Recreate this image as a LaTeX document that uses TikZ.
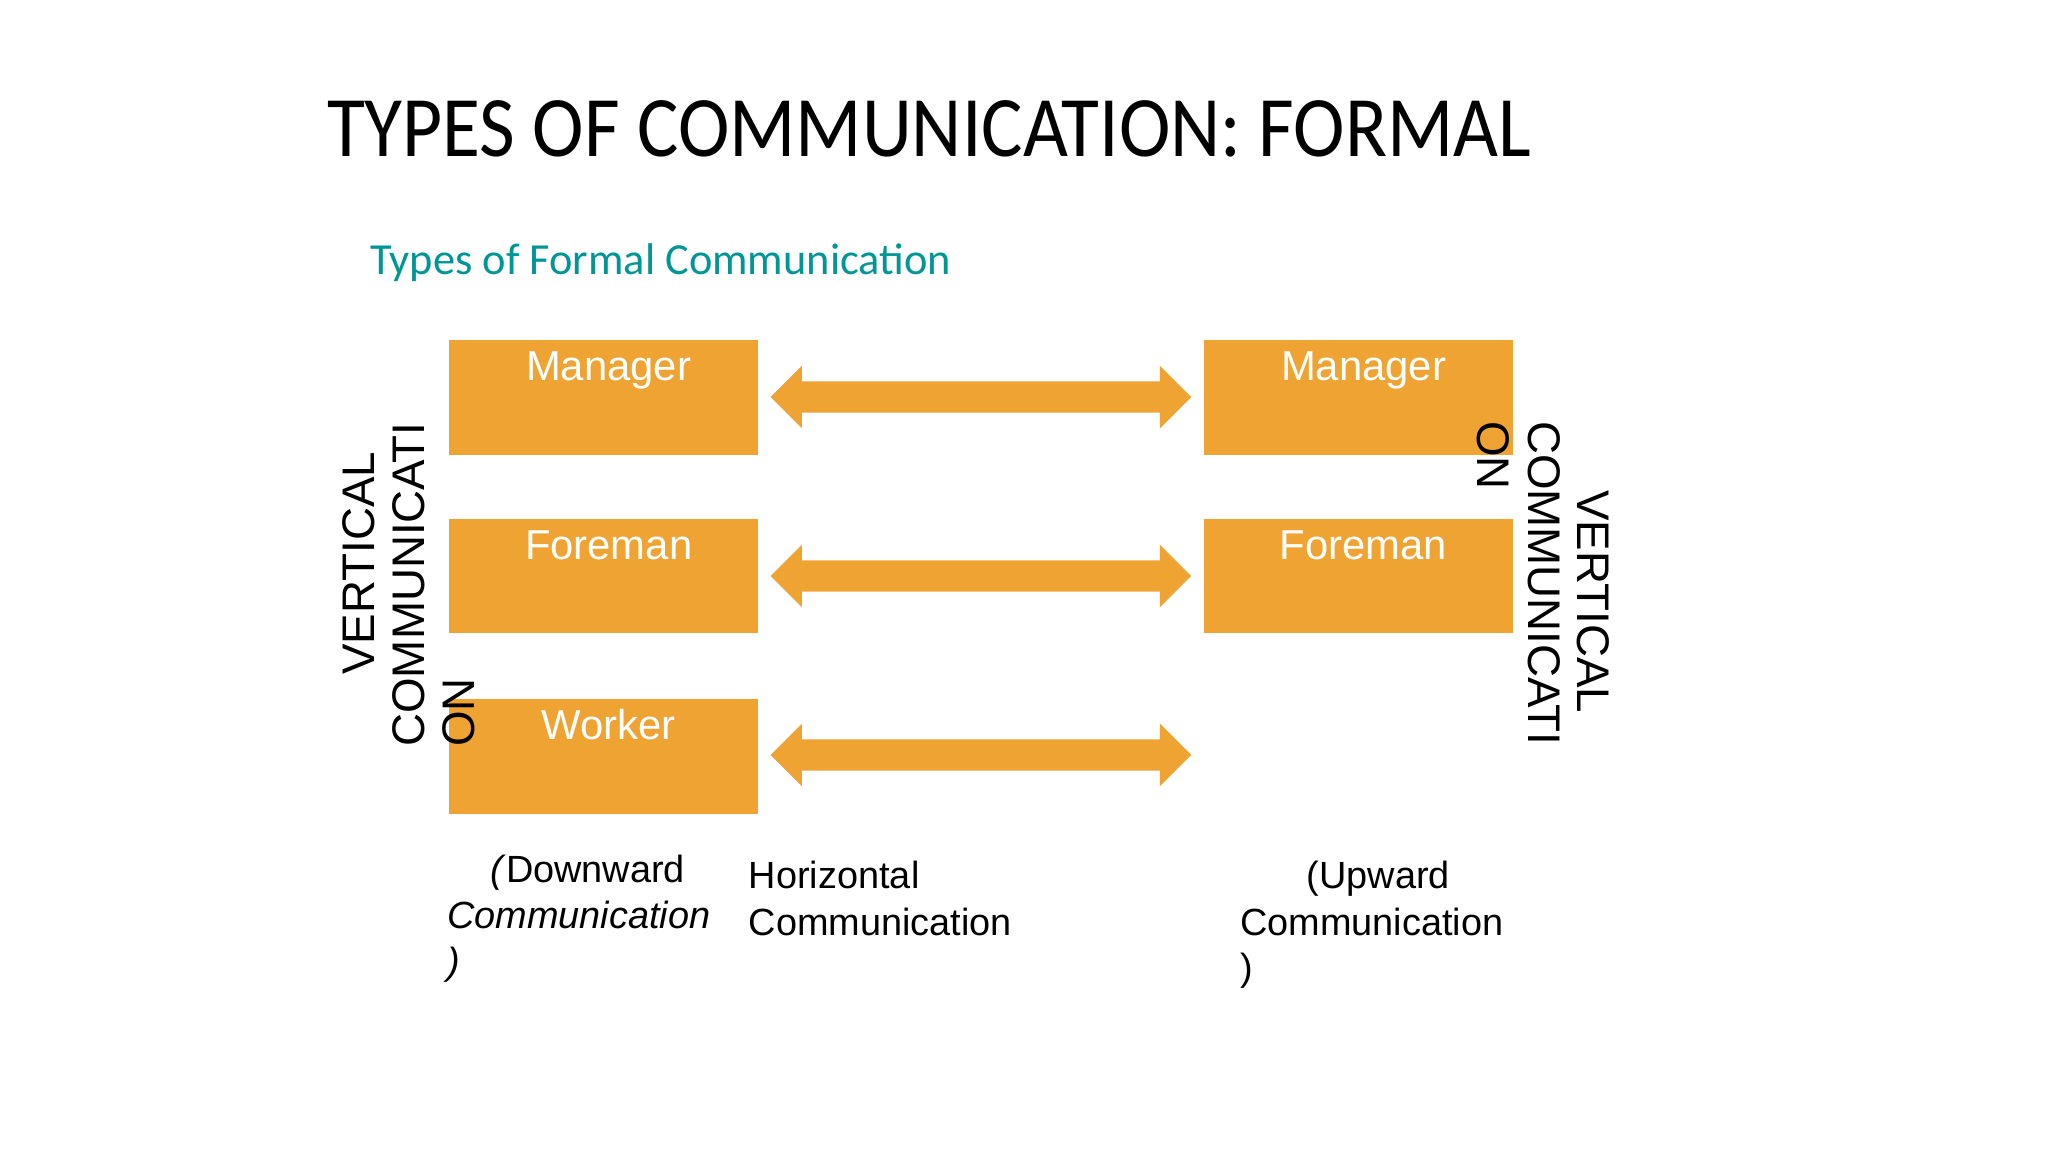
\documentclass[tikz,border=0pt]{standalone}
\usepackage{fontspec}
\setmainfont{Liberation Sans}
\newfontfamily\carl{Carlito}
\begin{document}
\begin{tikzpicture}[x=0.5pt,y=-0.5pt,
  box/.style={fill=orb,draw=none},
  blab/.style={text=white,font=\fontsize{16}{16}\selectfont,anchor=base},
  vt/.style={font=\fontsize{17.5}{17.5}\selectfont,anchor=base west,inner sep=0},
  bt/.style={font=\fontsize{14.5}{14.5}\selectfont,anchor=base west,inner sep=0}]
\definecolor{orb}{RGB}{239,163,50}
\definecolor{teal1}{RGB}{0,150,150}
\useasboundingbox (0,0) rectangle (1568,882);
\node[anchor=base west,inner sep=0,font=\carl\fontsize{33}{33}\selectfont,xscale=0.9] (title) at (250,120) {TYPES OF COMMUNICATION: FORMAL};
\node[anchor=base west,inner sep=0,text=teal1,font=\carl\fontsize{17}{17}\selectfont] (sub) at (283,210) {Types of Formal Communication};
\foreach \n/\y/\t in {lm/260/Manager,lf/397/Foreman,lw/535/Worker}{
  \fill[box] (344,\y) rectangle (580,\y+88);
  \node[blab] (\n) at (466,\y+31) {\t};}
\foreach \n/\y/\t in {rm/260/Manager,rf/397/Foreman}{
  \fill[box] (922,\y) rectangle (1158,\y+88);
  \node[blab] (\n) at (1044,\y+31) {\t};}
\foreach \y in {304,441,578}{
  \fill[orb] (590,\y) -- (614,\y-24) -- (614,\y-12) -- (888,\y-12) -- (888,\y-24) -- (912,\y) -- (888,\y+24) -- (888,\y+12) -- (614,\y+12) -- (614,\y+24) -- cycle;}
\node[vt,rotate=90] (lv1) at (287,517) {VERTICAL};
\node[vt,rotate=90] (lv2) at (325,572) {COMMUNICATI};
\node[vt,rotate=90] (lv3) at (363,572) {ON};
\node[vt,rotate=-90] (rv1) at (1208,375) {VERTICAL};
\node[vt,rotate=-90] (rv2) at (1170,322) {COMMUNICATI};
\node[vt,rotate=-90] (rv3) at (1131,322) {ON};
\node[bt] (d1) at (375,676) {\textit{(}Downward};
\node[bt] (d2) at (342,711) {\textit{Communication}};
\node[bt] (d3) at (342,746) {\textit{)}};
\node[bt] (h1) at (573,680) {Horizontal};
\node[bt] (h2) at (573,716) {Communication};
\node[bt] (u1) at (1000,680) {(Upward};
\node[bt] (u2) at (949,716) {Communication};
\node[bt] (u3) at (949,751) {)};
\end{tikzpicture}
\end{document}
